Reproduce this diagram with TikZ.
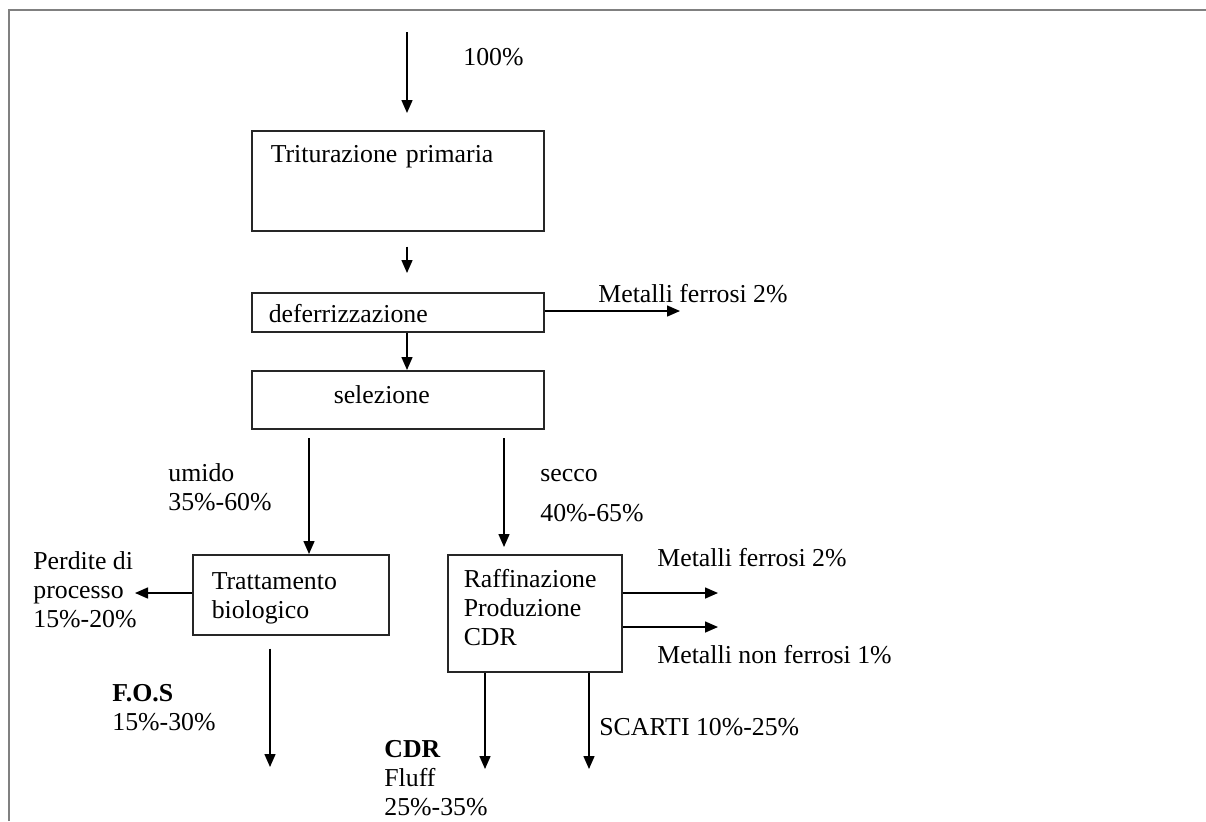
\documentclass[tikz,border=0pt]{standalone}
\usepackage{fontspec}
\setmainfont{Liberation Serif}
\usetikzlibrary{arrows.meta}

\tikzset{
  box/.style={draw=black!85, line width=0.75pt, anchor=north west, inner ysep=0pt, align=left},
  lbl/.style={anchor=base west, inner sep=0pt, align=left},
  arr/.style={-{Triangle[length=6.5pt,width=5.5pt]}, line width=0.75pt},
}

\begin{document}
\begin{tikzpicture}[x=0.5pt, y=-0.5pt, font=\fontsize{12.9}{14.5}\selectfont]
    \useasboundingbox (0,0) rectangle (1206,821);
    % Frame
    \draw[gray, line width=1pt] (9,821) -- (9,10) -- (1206,10);

    % Process boxes
    \node[box, text width=127pt, inner xsep=9.5pt, text height=16pt, text depth=34pt] (tritura) at (251,130) {Triturazione primaria};
    \node[box, text width=129pt, inner xsep=8.5pt, text height=15pt, text depth=4.5pt] (deferr) at (251,292) {deferrizzazione};
    \node[box, text width=64pt, inner xsep=41pt, text height=16.5pt, text depth=12.5pt] (selez) at (251,370) {selezione};
    \node[box, text width=79pt, inner xsep=9.5pt, text height=17.5pt, text depth=22.5pt] (biolog) at (192,554) {Trattamento\\biologico};
    \node[box, text width=71pt, inner xsep=8pt, text height=16.5pt, text depth=42pt] (raffin) at (447,554) {Raffinazione\\Produzione\\CDR};

    % Free ends of the flows
    \coordinate (src) at (407,32);
    \coordinate (ferro) at (680,311);
    \coordinate (umido) at (309,438);
    \coordinate (secco) at (504,438);
    \coordinate (perd) at (135,593);
    \coordinate (mf) at (718,593);
    \coordinate (mnf) at (718,627);
    \coordinate (fos) at (270,767);
    \coordinate (cdr) at (485,769);
    \coordinate (scarti) at (589,769);

    % Flows
    \draw[arr, shorten >=8.5pt] (src) -- (src |- tritura.north);
    \draw[arr, shorten <=7.5pt, shorten >=9.5pt] (tritura.south -| src) -- (deferr.north -| src);
    \draw[arr] (deferr.south -| src) -- (selez.north -| src);
    \draw[arr] (deferr.east |- ferro) -- (ferro);
    \draw[arr] (umido) -- (umido |- biolog.north);
    \draw[arr, shorten >=3.5pt] (secco) -- (secco |- raffin.north);
    \draw[arr] (biolog.west |- perd) -- (perd);
    \draw[arr] (raffin.east |- mf) -- (mf);
    \draw[arr] (raffin.east |- mnf) -- (mnf);
    \draw[arr, shorten <=6.5pt] (biolog.south -| fos) -- (fos);
    \draw[arr] (raffin.south -| cdr) -- (cdr);
    \draw[arr] (raffin.south -| scarti) -- (scarti);

    % Percentages (multi-line labels sit on their last line)
    \node[lbl] (cento) at (463,65) {100\%};
    \node[lbl] (lferro) at (598,302) {Metalli ferrosi 2\%};
    \node[lbl] (lumido) at (168,510) {umido\\35\%-60\%};
    \node[lbl] (lsecco) at (540,521) {secco\\[5.5pt]40\%-65\%};
    \node[lbl] (lperd) at (33,627) {Perdite di\\processo\\15\%-20\%};
    \node[lbl] (lmf) at (657,566) {Metalli ferrosi 2\%};
    \node[lbl] (lmnf) at (657,663) {Metalli non ferrosi 1\%};
    \node[lbl] (lfos) at (112,730) {\textbf{F.O.S}\\15\%-30\%};
    \node[lbl] (lscarti) at (599,735) {SCARTI 10\%-25\%};
    \node[lbl] (lcdr) at (384,815) {\textbf{CDR}\\Fluff\\25\%-35\%};
\end{tikzpicture}
\end{document}
